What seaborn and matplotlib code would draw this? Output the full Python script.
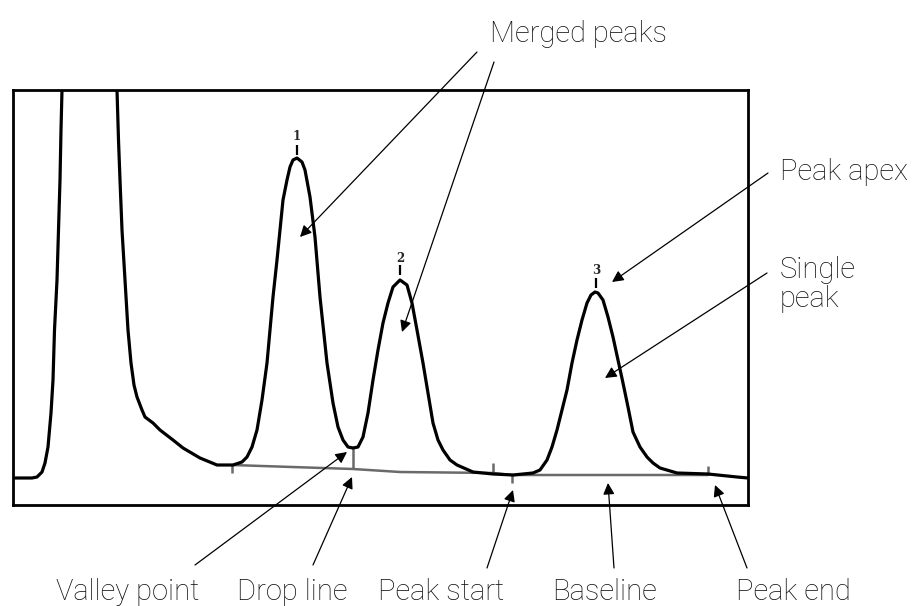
import numpy as np
import pandas as pd
import matplotlib.pyplot as plt
import seaborn as sns

# chromatogram trace (time in s, signal in mV)
trace_time = [0.0, 1.9, 2.4, 2.9, 3.2, 3.5, 3.8, 4.0, 4.15, 4.4, 4.55, 4.7, 4.8, 4.9,
              5.1, 10.2,
              10.4, 10.55, 10.7, 10.9, 11.2, 11.5, 11.8, 12.1, 12.4, 12.9, 13.2, 14.0,
              14.7, 16.0, 17.0, 18.7, 20.4, 22.0, 22.9,
              23.4, 23.9, 24.4, 24.9, 25.4, 25.7, 26.0, 26.4, 26.7, 27.0, 27.4, 27.7,
              28.0, 28.4, 28.9, 29.2, 29.7, 30.2, 30.7, 31.4, 32.0, 32.5, 33.0, 33.5,
              34.0, 34.5, 35.0, 35.5, 36.0, 36.5, 37.0, 37.5, 38.0, 38.7, 39.4, 39.9,
              40.4, 41.0, 41.5, 42.0, 42.5, 43.0, 43.7, 44.4,
              46.0, 48.0, 50.0,
              52.0, 52.7, 53.4, 53.9, 54.4, 54.9, 55.4, 55.9, 56.4, 56.9, 57.4, 57.8,
              58.2, 58.5, 59.0, 59.5, 60.0, 60.5, 61.0, 61.5, 62.0, 62.7, 63.4, 64.0,
              64.7, 66.4, 69.5, 72.4, 73.5]
trace_signal = [6.75, 6.75, 7.0, 8.25, 10.5, 14.5, 23.0, 31.25, 43.75, 56.25, 68.75, 81.25, 93.75, 103.75,
                125, 125,
                103.75, 91.25, 81.25, 68.75, 56.25, 43.75, 35.5, 30.0, 27.0, 23.75, 22.0, 20.5,
                18.75, 16.25, 14.25, 11.75, 10.0, 10.0, 10.75,
                12.0, 14.5, 18.75, 26.25, 35.5, 43.75, 52.0, 61.25, 68.75, 76.25, 81.25, 84.5,
                86.25, 86.75, 85.75, 83.75, 77.0, 67.0, 52.0, 35.5, 25.5, 19.5, 16.25, 14.5,
                14.25, 14.5, 17.0, 23.0, 31.25, 38.75, 45.5, 50.5, 54.5, 56.25, 55.0, 50.5,
                43.75, 35.5, 28.0, 20.5, 16.25, 13.75, 11.25, 10.0,
                8.25, 7.75, 7.5,
                8.0, 8.75, 11.25, 14.5, 18.75, 23.75, 28.75, 35.5, 41.25, 46.25, 50.5, 52.5,
                53.25, 53.0, 51.25, 47.0, 42.0, 36.25, 30.5, 24.5, 18.25, 14.5, 12.0, 10.5,
                9.25, 8.0, 7.75, 7.0, 6.75]

# integration baseline
base_time = [21.9, 27.9, 34.0, 38.7, 48.0, 49.9, 69.5]
base_signal = [10.0, 9.5, 9.0, 8.25, 8.0, 7.5, 7.5]

# integration tick marks (time, from, to)
mark_time = [21.9, 34.0, 48.0, 49.9, 69.5]
mark_lo = [8.0, 9.0, 8.0, 5.5, 7.5]
mark_hi = [10.0, 14.25, 10.5, 7.5, 9.75]

# peak numbers
peak_names = ["1", "2", "3"]
peak_time = [28.4, 38.7, 58.3]
peak_label_y = [92.25, 61.75, 58.75]
peak_tick_lo = [87.5, 57.5, 54.25]
peak_tick_hi = [90.0, 60.0, 56.75]

# callouts: arrow tip (data), arrow tail (figure px)
callout_tip_x = [28.7, 38.9, 59.9, 59.2, 33.4, 33.9, 50.0, 59.5, 70.2]
callout_tip_y = [67.0, 43.25, 55.75, 31.75, 13.25, 7.0, 3.75, 5.5, 5.0]
callout_tail = [(477, 554), (494, 544), (768, 433), (767, 333),
                (195, 41), (313, 41), (487, 38), (614, 38), (747, 38)]

bottom_labels = ["Valley point", "Drop line", "Peak start", "Baseline", "Peak end"]
bottom_label_x = [128, 292, 441, 604, 793]

trace = pd.DataFrame({"time": trace_time, "signal": trace_signal})
base = pd.DataFrame({"time": base_time, "signal": base_signal})

sns.set_style("white")
plt.rcParams["font.family"] = ["Roboto", "DejaVu Sans"]

fig = plt.figure(figsize=(9.13, 6.06), dpi=100)
ax = fig.add_axes([13 / 913, 101 / 606, 735 / 913, 415 / 606])

sns.lineplot(data=base, x="time", y="signal", color="#6a6a6a", linewidth=1.8,
             sort=False, estimator=None, ax=ax)
ax.vlines(mark_time, mark_lo, mark_hi, color="#6a6a6a", linewidth=1.8)
sns.lineplot(data=trace, x="time", y="signal", color="black", linewidth=2.3,
             sort=False, estimator=None, ax=ax)

for name, t, ly, lo, hi in zip(peak_names, peak_time, peak_label_y, peak_tick_lo, peak_tick_hi):
    ax.text(t, ly, name, ha="center", va="center", fontsize=8.5, fontweight="bold",
            family="DejaVu Serif")
    ax.vlines(t, lo, hi, color="black", linewidth=1.6)

ax.set_xlim(0, 73.5)
ax.set_ylim(0, 103.75)
ax.set_xticks([])
ax.set_yticks([])
ax.set_xlabel("")
ax.set_ylabel("")
for sp in ax.spines.values():
    sp.set_visible(True)
    sp.set_color("black")
    sp.set_linewidth(2.0)

for tx, ty, tail in zip(callout_tip_x, callout_tip_y, callout_tail):
    ax.annotate("", xy=(tx, ty), xytext=tail, textcoords="figure pixels",
                arrowprops=dict(arrowstyle="-|>", color="black", lw=0.9,
                                mutation_scale=17, shrinkA=0, shrinkB=0))

txt = dict(fontsize=21, fontweight="light", color="#111111")
fig.text(490 / 913, 564 / 606, "Merged peaks", ha="left", va="baseline", **txt)
fig.text(780 / 913, 426 / 606, "Peak apex", ha="left", va="baseline", **txt)
fig.text(780 / 913, 328 / 606, "Single", ha="left", va="baseline", **txt)
fig.text(780 / 913, 299 / 606, "peak", ha="left", va="baseline", **txt)
for lab, lx in zip(bottom_labels, bottom_label_x):
    fig.text(lx / 913, 6 / 606, lab, ha="center", va="baseline", **txt)

fig.savefig("out.png", dpi=100)
